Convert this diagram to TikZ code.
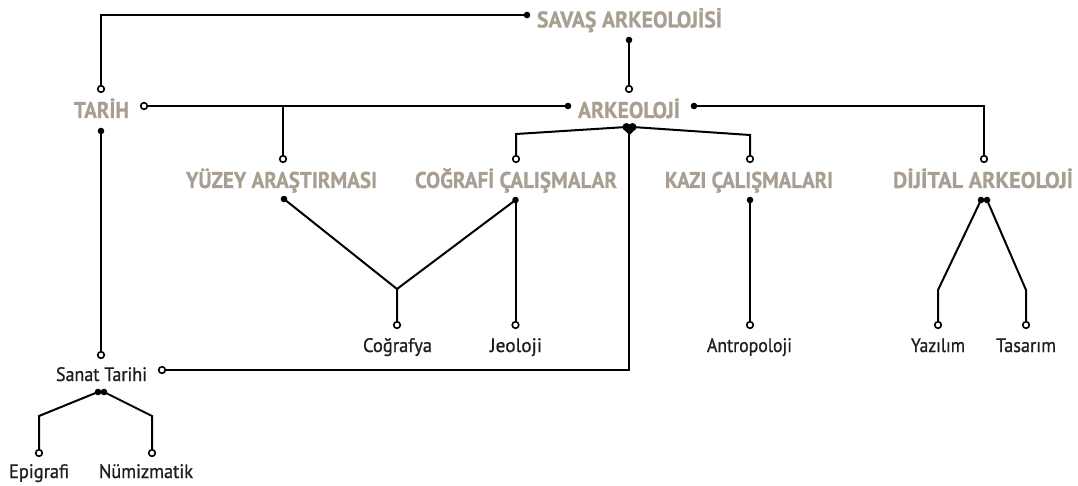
\documentclass[tikz,border=0pt]{standalone}
\usepackage{fontspec}
\setmainfont{PT Sans}
\newfontfamily\labf{PT Sans}[FakeBold=0.9]
\newfontfamily\headf{PT Sans}[BoldFeatures={FakeBold=0.7}]
\usepackage{graphicx}
\definecolor{headc}{RGB}{168,159,146}
\definecolor{labc}{RGB}{30,30,30}
\newcommand{\fw}[2]{\resizebox{#1pt}{\height}{#2}}
\tikzset{
  head/.style={anchor=base, inner sep=0pt, text=headc, font=\headf\bfseries\fontsize{22.8}{26}\selectfont},
  lab/.style={anchor=base, inner sep=0pt, text=labc, font=\labf\fontsize{19.5}{23}\selectfont},
  conn/.style={line width=2pt, draw=black, line join=miter},
  odot/.style={circle, draw=black, fill=white, line width=1.6pt, inner sep=0pt, minimum size=6.6pt},
  fdot/.style={circle, fill=black, inner sep=0pt, minimum size=6.6pt},
}
\begin{document}
\begin{tikzpicture}[x=1pt,y=-1pt]
\path[use as bounding box] (0,0) rectangle (1078,486);
% headings
\node[head] (sav) at (629.5,27.5) {\fw{185}{SAVAŞ ARKEOLOJİSİ}};
\node[head] (tar) at (101.5,118) {\fw{55}{TARİH}};
\node[head] (ark) at (629,118) {\fw{102}{ARKEOLOJİ}};
\node[head] (yuz) at (281.5,188) {\fw{191}{YÜZEY ARAŞTIRMASI}};
\node[head] (cog) at (516,188) {\fw{202}{COĞRAFİ ÇALIŞMALAR}};
\node[head] (kaz) at (749,188) {\fw{168}{KAZI ÇALIŞMALARI}};
\node[head] (dij) at (983,188) {\fw{180}{DİJİTAL ARKEOLOJİ}};
% labels
\node[lab] (cgy) at (397.5,352) {\fw{69}{Coğrafya}};
\node[lab] (jeo) at (516,352) {\fw{52}{Jeoloji}};
\node[lab] (ant) at (749.5,352) {\fw{85}{Antropoloji}};
\node[lab] (yaz) at (938,352) {\fw{54}{Yazılım}};
\node[lab] (tas) at (1026,352) {\fw{60}{Tasarım}};
\node[lab] (san) at (101.5,381) {\fw{91}{Sanat Tarihi}};
\node[lab] (epi) at (39,478) {\fw{60}{Epigrafi}};
\node[lab] (num) at (146,478) {\fw{94}{Nümizmatik}};
% connector points
\coordinate (sav-w) at (527,15);
\coordinate (sav-s) at (629,40);
\coordinate (tar-n) at (101,89);
\coordinate (tar-e) at (144,106);
\coordinate (tar-s) at (101,131);
\coordinate (ark-n) at (629,89);
\coordinate (ark-w) at (568,106);
\coordinate (ark-e) at (694,106);
\coordinate (ark-sl) at (626.5,127);
\coordinate (ark-sr) at (632.5,127);
\coordinate (ark-s) at (629,130);
\coordinate (yuz-n) at (283,159);
\coordinate (yuz-s) at (284,199);
\coordinate (cog-n) at (516,159);
\coordinate (cog-s) at (515.5,200);
\coordinate (kaz-n) at (750,159);
\coordinate (kaz-s) at (750,200);
\coordinate (dij-n) at (984,159);
\coordinate (dij-sl) at (981,200);
\coordinate (dij-sr) at (987,200);
\coordinate (j1) at (397,289);
\coordinate (cgy-n) at (397,325);
\coordinate (jeo-n) at (515.5,325);
\coordinate (ant-n) at (750,325);
\coordinate (b1) at (516,134);
\coordinate (b2) at (750,135);
\coordinate (b3) at (938,290);
\coordinate (yaz-n) at (938,325);
\coordinate (b4) at (1026,290);
\coordinate (tas-n) at (1026,325);
\coordinate (san-n) at (101,355);
\coordinate (san-e) at (162,370);
\coordinate (san-sl) at (98,392);
\coordinate (san-sr) at (104,392);
\coordinate (b5) at (39,416);
\coordinate (epi-n) at (39,453);
\coordinate (b6) at (152,416);
\coordinate (num-n) at (152,453);
% connectors
\draw[conn] (sav-w) -| (tar-n);
\draw[conn] (sav-s) -- (ark-n);
\draw[conn] (tar-e) -- (ark-w);
\draw[conn] (yuz-n) -- (yuz-n |- tar-e);
\draw[conn] (ark-e) -| (dij-n);
\draw[conn] (ark-sl) -- (b1) -- (cog-n);
\draw[conn] (ark-sr) -- (b2) -- (kaz-n);
\draw[conn] (ark-s) |- (san-e);
\draw[conn] (tar-s) -- (san-n);
\draw[conn] (yuz-s) -- (j1) -- (cgy-n);
\draw[conn] (cog-s) -- (j1);
\draw[conn] (cog-s) -- (jeo-n);
\draw[conn] (kaz-s) -- (ant-n);
\draw[conn] (dij-sl) -- (b3) -- (yaz-n);
\draw[conn] (dij-sr) -- (b4) -- (tas-n);
\draw[conn] (san-sl) -- (b5) -- (epi-n);
\draw[conn] (san-sr) -- (b6) -- (num-n);
% dots
\foreach \c in {sav-w,sav-s,tar-s,ark-w,ark-e,yuz-s,cog-s,kaz-s,dij-sl,dij-sr,san-sl,san-sr}
  \node[fdot] at (\c) {};
\node[fdot, minimum size=8pt] at (ark-sl) {};
\node[fdot, minimum size=8pt] at (ark-sr) {};
\fill (622.8,128.5) -- (636.2,128.5) -- (629.5,135) -- cycle;
\foreach \c in {tar-n,tar-e,ark-n,yuz-n,cog-n,kaz-n,dij-n,cgy-n,jeo-n,ant-n,yaz-n,tas-n,san-n,san-e,epi-n,num-n}
  \node[odot] at (\c) {};
\end{tikzpicture}
\end{document}
